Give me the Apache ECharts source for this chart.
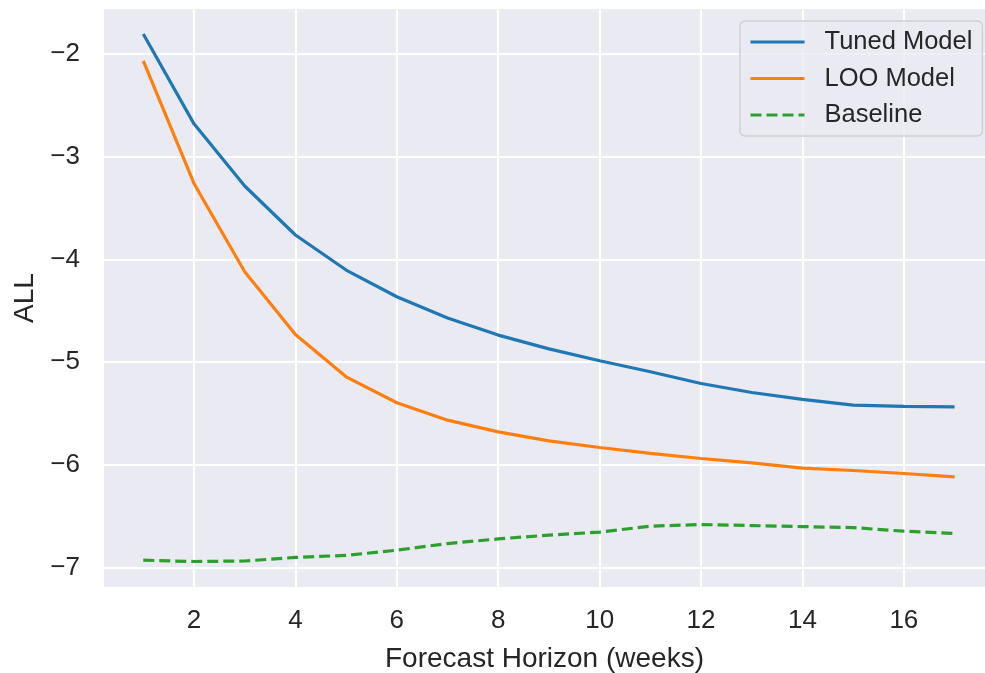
<!DOCTYPE html>
<html>
<head>
<meta charset="utf-8">
<script src="https://cdn.jsdelivr.net/npm/echarts@6/dist/echarts.min.js"></script>
<style>
  html, body { margin: 0; padding: 0; background: #fff; }
  #chart { width: 985px; height: 673px; }
</style>
</head>
<body>
<div id="chart"></div>
<script>
// forecast horizon, weeks
const weeks = [1, 2, 3, 4, 5, 6, 7, 8, 9, 10, 11, 12, 13, 14, 15, 16, 17]

const tunedModel = [-1.805, -2.68, -3.285, -3.762, -4.103, -4.363, -4.57, -4.736, -4.87, -4.986,
  -5.093, -5.207, -5.295, -5.362, -5.418, -5.43, -5.434]
const looModel = [-2.068, -3.26, -4.12, -4.73, -5.142, -5.395, -5.564, -5.678, -5.765, -5.83,
  -5.888, -5.937, -5.98, -6.031, -6.054, -6.083, -6.116]
const baseline = [-6.927, -6.94, -6.935, -6.9, -6.88, -6.83, -6.765, -6.72, -6.683, -6.654,
  -6.596, -6.58, -6.59, -6.6, -6.61, -6.645, -6.667]

const xTicks = [2, 4, 6, 8, 10, 12, 14, 16]
const yTicks = [-7, -6, -5, -4, -3, -2]

const textColor = '#262626'
const font = 'Liberation Sans, Arial, sans-serif'

const pairs = ys => weeks.map((w, i) => [w, ys[i]])

const chart = echarts.init(document.getElementById('chart'))

const lineSeries = (name, data, color, dashed) => ({
  name: name,
  type: 'line',
  data: pairs(data),
  symbol: 'none',
  lineStyle: {
    width: 3.2,
    color: color,
    type: dashed ? [11, 5] : 'solid'
  },
  itemStyle: { color: color },
  emphasis: { disabled: true },
  animation: false
})

chart.setOption({
  backgroundColor: '#ffffff',
  animation: false,
  grid: {
    left: 104,
    top: 9,
    width: 881,
    height: 578,
    outerBoundsMode: 'none',
    containLabel: false,
    show: true,
    backgroundColor: '#eaeaf2',
    borderWidth: 0
  },
  legend: {
    orient: 'vertical',
    left: 740,
    top: 21,
    padding: [8, 10, 8, 9],
    itemWidth: 54,
    itemHeight: 26,
    itemGap: 10.5,
    backgroundColor: 'rgba(234,234,242,0.8)',
    borderColor: '#d0d0d4',
    borderWidth: 1.5,
    borderRadius: 5,
    itemStyle: { color: 'transparent', borderWidth: 0, opacity: 0 },
    lineStyle: { width: 3 },
    textStyle: {
      fontFamily: font,
      fontSize: 25.5,
      color: textColor,
      padding: [0, 0, 0, 15]
    },
    data: ['Tuned Model', 'LOO Model', 'Baseline']
  },
  xAxis: {
    type: 'value',
    min: 0.225,
    max: 17.6,
    name: 'Forecast Horizon (weeks)',
    nameLocation: 'middle',
    nameGap: 58,
    nameTextStyle: { fontFamily: font, fontSize: 28, color: textColor },
    axisLine: { show: false },
    axisTick: { show: false, customValues: xTicks },
    axisLabel: {
      customValues: xTicks,
      fontFamily: font,
      fontSize: 26,
      color: textColor,
      margin: 21
    },
    splitLine: { show: true, lineStyle: { color: '#ffffff', width: 2 } }
  },
  yAxis: {
    type: 'value',
    min: -7.188,
    max: -1.562,
    name: 'ALL',
    nameLocation: 'middle',
    nameGap: 62,
    nameRotate: 90,
    nameTextStyle: { fontFamily: font, fontSize: 28, color: textColor },
    axisLine: { show: false },
    axisTick: { show: false, customValues: yTicks },
    axisLabel: {
      customValues: yTicks,
      fontFamily: font,
      fontSize: 26,
      color: textColor,
      margin: 24,
      formatter: v => String(v).replace('-', '\u2212')
    },
    splitLine: { show: true, lineStyle: { color: '#ffffff', width: 2 } }
  },
  series: [
    lineSeries('Tuned Model', tunedModel, '#1f77b4', false),
    lineSeries('LOO Model', looModel, '#ff7f0e', false),
    lineSeries('Baseline', baseline, '#2ca02c', true)
  ]
})
</script>
</body>
</html>
